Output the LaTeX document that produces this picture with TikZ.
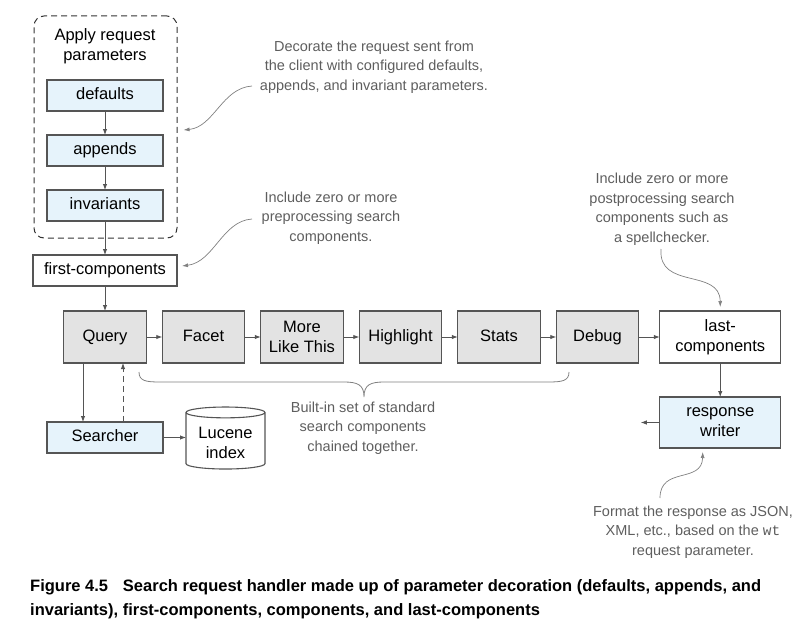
\documentclass[tikz,border=0pt]{standalone}
\usepackage{fontspec}
\setmainfont{Liberation Sans}
\setmonofont{Liberation Mono}
\usetikzlibrary{positioning,shapes.geometric,arrows.meta}
\definecolor{boxblue}{HTML}{E6F3FB}
\definecolor{boxgray}{HTML}{E3E3E3}
\definecolor{linegray}{HTML}{555555}
\definecolor{notegray}{HTML}{5E5E5E}
\newcommand\boxfont{\fontsize{16.5}{20}\selectfont}
\newcommand\notefont{\fontsize{14.5}{19.5}\selectfont}
\newcommand\capfont{\fontsize{16.5}{24}\selectfont\bfseries}

\begin{document}
\begin{tikzpicture}[x=1pt,y=-1pt]
\tikzstyle{param}=[rectangle, draw=linegray, fill=boxblue, line width=1.1pt, inner sep=0pt, outer sep=0pt, minimum width=116pt, minimum height=31pt, align=center, font=\boxfont]
\tikzstyle{comp}=[rectangle, draw=linegray, fill=boxgray, line width=1.1pt, inner sep=0pt, outer sep=0pt, minimum width=82.5pt, minimum height=52pt, align=center, font=\boxfont]
\tikzstyle{plain}=[rectangle, draw=linegray, fill=white, line width=1.1pt, inner sep=0pt, outer sep=0pt, align=center, font=\boxfont]
\tikzstyle{oneline}=[text height=12pt, text depth=3.5pt]
\tikzstyle{note}=[align=center, text=notegray, font=\notefont]
\tikzstyle{connect}=[-{Latex[length=6pt,width=4.5pt]}, line width=0.9pt, draw=linegray]
\tikzstyle{pointer}=[-{Latex[length=6pt,width=4pt]}, line width=0.7pt, draw=gray]
  \useasboundingbox (0,0) rectangle (794,634);
  % parameter decoration
  \node[rectangle, rounded corners=10pt, dash pattern=on 6pt off 4pt, draw=black!80, line width=1pt, minimum width=143pt, minimum height=222pt] (params) at (105.5,127) {};
  \node[align=center, font=\boxfont] (apply) at (105,46) {Apply request\\parameters};
  \node[param, oneline] (defaults) at (105,95.5) {defaults};
  \node[param, oneline, below=24pt of defaults] (appends) {appends};
  \node[param, oneline, below=24pt of appends] (invariants) {invariants};
  \node[plain, oneline, minimum width=144pt, minimum height=31pt, below=34pt of invariants] (first) {first-components};
  % component chain
  \node[comp, oneline, below=25pt of first] (query) {Query};
  \node[comp, oneline, right=16pt of query] (facet) {Facet};
  \node[comp, right=16pt of facet] (mlt) {More\\Like This};
  \node[comp, oneline, right=16pt of mlt] (highlight) {Highlight};
  \node[comp, oneline, right=16pt of highlight] (stats) {Stats};
  \node[comp, oneline, right=16pt of stats] (debug) {Debug};
  \node[plain, minimum width=121pt, minimum height=52pt, right=21pt of debug] (last) {last-\\components};
  \node[param, minimum width=121pt, minimum height=51pt, below=34pt of last] (writer) {response\\writer};
  \node[param, oneline, below=59pt of query] (searcher) {Searcher};
  \node[cylinder, shape border rotate=90, aspect=0.2, draw=linegray, fill=white, line width=1.1pt, inner sep=0pt, outer sep=0pt, minimum width=79pt, minimum height=62pt, align=center, font=\boxfont] (lucene) at ([xshift=62.5pt, yshift=-3.5pt]searcher.east) {\rule{0pt}{16pt}Lucene\\index};
  \coordinate[left=19pt of writer] (out);
  \path (defaults) edge [connect] (appends);
  \path (appends) edge [connect] (invariants);
  \path (invariants) edge [connect] (first);
  \path (first) edge [connect] (query);
  \path (query) edge [connect] (facet);
  \path (facet) edge [connect] (mlt);
  \path (mlt) edge [connect] (highlight);
  \path (highlight) edge [connect] (stats);
  \path (stats) edge [connect] (debug);
  \path (debug) edge [connect] (last);
  \path (last) edge [connect] (writer);
  \path (writer) edge [connect] (out);
  \draw[connect] (searcher.east) -- (searcher.east -| lucene.west);
  \draw[connect] ([xshift=-22pt]query.south) -- ([xshift=-22pt]query.south |- searcher.north);
  \draw[connect, dash pattern=on 6pt off 4pt] ([xshift=18pt]searcher.north) -- ([xshift=18pt]searcher.north |- query.south);
  % notes
  \node[note] (decorate) at (374,67) {Decorate the request sent from\\the client with configured defaults,\\appends, and invariant parameters.};
  \node[note] (pre) at (331,218) {Include zero or more\\preprocessing search\\components.};
  \node[note] (post) at (662,209) {Include zero or more\\postprocessing search\\components such as\\a spellchecker.};
  \node[note] (builtin) at (363,428) {Built-in set of standard\\search components\\chained together.};
  \node[note] (format) at (693,532) {Format the response as JSON,\\XML, etc., based on the \texttt{wt}\\request parameter.};
  \coordinate (decorate tail) at (252,86);
  \coordinate (pre tail) at (252,219);
  \coordinate (post tail) at (661,249);
  \coordinate (format tail) at (660,498);
  \draw[pointer] (decorate tail) .. controls (222,88) and (214,127) .. ([xshift=6pt,yshift=-3pt]params.east);
  \draw[pointer] (pre tail) .. controls (222,221) and (214,262) .. ([xshift=5pt,yshift=4.5pt]first.east);
  \draw[pointer] (post tail) .. controls (658,290) and (720,268) .. ([yshift=4pt]last.north);
  \draw[pointer] (format tail) .. controls (660,466) and (702,484) .. ([xshift=-17.5pt,yshift=-4pt]writer.south);
  % brace under the chain
  \draw[line width=0.8pt, draw=gray] (139,372) .. controls (139,381) and (146,382) .. (160,382) -- (344,382) .. controls (358,382) and (364,385) .. (364,397) .. controls (364,385) and (370,382) .. (384,382) -- (548,382) .. controls (562,382) and (569,381) .. (569,372);
  % caption
  \node[anchor=north west, align=left, inner sep=0pt, font=\capfont] (caption) at (30,579) {Figure 4.5\hspace{0.9em}Search request handler made up of parameter decoration (defaults, appends, and\\invariants), first-components, components, and last-components};
\end{tikzpicture}
\end{document}
